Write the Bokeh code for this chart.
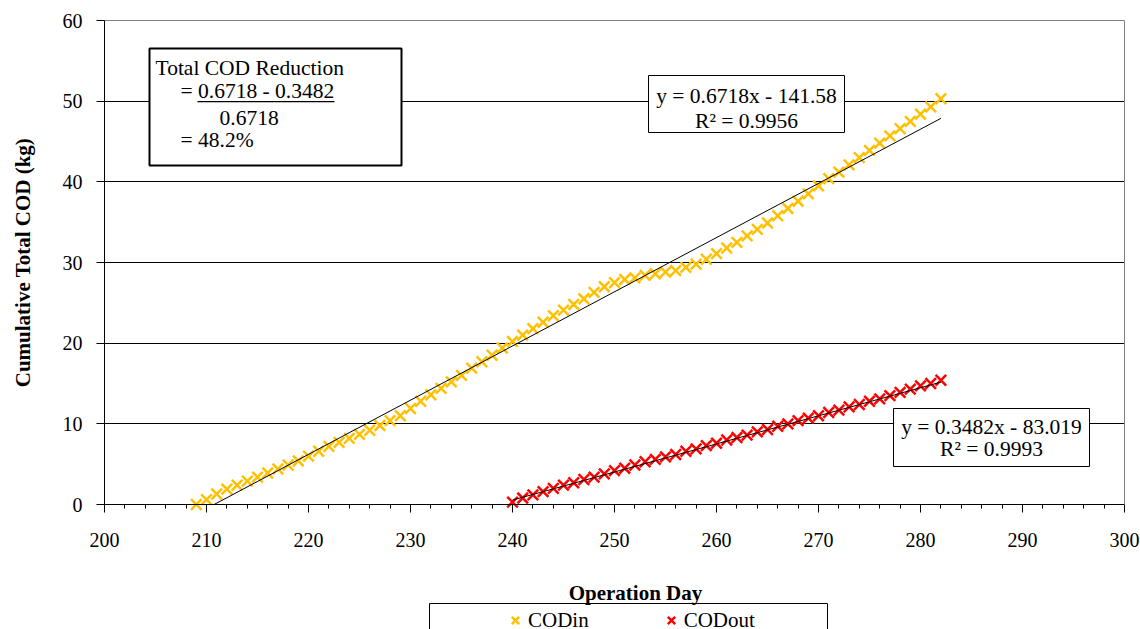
import math
from bokeh.plotting import figure
from bokeh.models import (Legend, LegendItem, Label, BoxAnnotation, SingleIntervalTicker,
                          FixedTicker, Range1d, LinearAxis)
from bokeh.embed import file_html
from bokeh.resources import INLINE

# ---------------- data ----------------
codin_days = list(range(209, 283))
codin_vals = [0.0, 0.6, 1.3, 1.9, 2.4, 2.9, 3.4, 3.9, 4.4, 4.9,
              5.4, 6.0, 6.6, 7.2, 7.7, 8.2, 8.7, 9.2, 9.8, 10.4,
              11.0, 11.9, 12.8, 13.6, 14.4, 15.2, 16.0, 16.9, 17.7, 18.5,
              19.4, 20.2, 21.0, 21.8, 22.6, 23.4, 24.1, 24.8, 25.5, 26.3,
              27.0, 27.5, 27.9, 28.1, 28.4, 28.6, 28.8, 29.0, 29.4, 29.8,
              30.4, 31.1, 31.8, 32.5, 33.3, 34.1, 34.9, 35.8, 36.7, 37.6,
              38.5, 39.5, 40.4, 41.2, 42.1, 43.0, 43.9, 44.8, 45.7, 46.6,
              47.5, 48.4, 49.3, 50.3]

codout_days = list(range(240, 283))
codout_vals = [0.3, 0.8, 1.2, 1.6, 2.0, 2.4, 2.7, 3.1, 3.4, 3.8,
               4.2, 4.5, 4.9, 5.3, 5.6, 5.9, 6.2, 6.6, 6.9, 7.3,
               7.6, 8.0, 8.3, 8.6, 9.0, 9.3, 9.7, 10.0, 10.4, 10.7,
               11.0, 11.4, 11.7, 12.1, 12.4, 12.8, 13.1, 13.5, 13.9, 14.3,
               14.7, 15.0, 15.4]

y_ticks = [0, 10, 20, 30, 40, 50, 60]

# trend line coefficients (as printed on the chart)
codin_slope, codin_intercept = 0.6718, -141.58
codout_slope, codout_intercept = 0.3482, -83.019

FONT = "Liberation Serif"

# ---------------- layout ----------------
W, H = 1140, 629
PL, PR, PT, PB = 104, 1124, 20, 504      # plot area on the canvas
X0, X1, Y0, Y1 = 200, 300, 0, 60
ppx = (PR - PL) / (X1 - X0)
ppy = (PB - PT) / (Y1 - Y0)
x_lo, x_hi = X0 - PL / ppx, X1 + (W - PR) / ppx
y_lo, y_hi = Y0 - (H - PB) / ppy, Y1 + PT / ppy

p = figure(width=W, height=H, output_backend="svg", toolbar_location=None,
           x_range=Range1d(x_lo, x_hi), y_range=Range1d(y_lo, y_hi),
           min_border=0, background_fill_color="white", border_fill_color="white",
           x_axis_location=None, y_axis_location=None)
p.outline_line_color = None
p.xgrid.visible = False
p.ygrid.visible = False

# horizontal gridlines limited to the plot area (minor ticks reaching across it)
grid_axis = LinearAxis(fixed_location=X0, bounds=(Y0, Y1),
                       ticker=FixedTicker(ticks=[], minor_ticks=y_ticks[1:-1]),
                       axis_line_color=None, major_tick_line_color=None,
                       minor_tick_line_color="#000000",
                       minor_tick_in=PR - PL, minor_tick_out=0, level="underlay")
p.add_layout(grid_axis, "left")

xaxis = LinearAxis(fixed_location=Y0, bounds=(X0, X1),
                   ticker=SingleIntervalTicker(interval=10, num_minor_ticks=5))
yaxis = LinearAxis(fixed_location=X0, bounds=(Y0, Y1), ticker=FixedTicker(ticks=y_ticks))
for ax in (xaxis, yaxis):
    ax.axis_line_color = "black"
    ax.axis_line_width = 1
    ax.major_tick_line_color = "black"
    ax.minor_tick_line_color = "black"
    ax.major_tick_in = 0
    ax.major_tick_out = 8
    ax.minor_tick_in = 0
    ax.minor_tick_out = 4
    ax.major_label_text_font = FONT
    ax.major_label_text_font_size = "20px"
    ax.major_label_text_color = "black"
xaxis.major_label_standoff = 20
yaxis.major_label_standoff = 14
yaxis.minor_tick_line_color = None
p.add_layout(xaxis, "below")
p.add_layout(yaxis, "left")

# plot-area border (top and right), drawn as bare axes
right_border = LinearAxis(fixed_location=X1, bounds=(Y0, Y1), ticker=FixedTicker(ticks=[]),
                          axis_line_color="#808080", major_tick_line_color=None,
                          minor_tick_line_color=None)
top_border = LinearAxis(fixed_location=Y1, bounds=(X0, X1), ticker=FixedTicker(ticks=[]),
                        axis_line_color="#808080", major_tick_line_color=None,
                        minor_tick_line_color=None)
p.add_layout(right_border, "right")
p.add_layout(top_border, "above")

# trend lines (start where the fitted line reaches 0)
tx_in = [max(codin_days[0], -codin_intercept / codin_slope), codin_days[-1]]
ty_in = [codin_slope * x + codin_intercept for x in tx_in]
tx_out = [max(codout_days[0], -codout_intercept / codout_slope), codout_days[-1]]
ty_out = [codout_slope * x + codout_intercept for x in tx_out]

# data
r_in = p.scatter(codin_days, codin_vals, marker="x", size=15,
                 line_color="#FFC000", line_width=2.5)
r_out = p.scatter(codout_days, codout_vals, marker="x", size=15,
                  line_color="#FF0000", line_width=2.5)
p.line(tx_in, ty_in, line_color="black", line_width=1)
p.line(tx_out, ty_out, line_color="black", line_width=1)


def sx(cx):
    return cx


def sy(cy):
    return H - cy


# axis titles
p.add_layout(Label(x=sx(22), y=sy((PT + PB) / 2), x_units="screen", y_units="screen",
                   text="Cumulative Total COD (kg)", angle=math.pi / 2,
                   text_font=FONT, text_font_size="21px", text_font_style="bold",
                   text_color="black", text_align="center", text_baseline="middle"))
p.add_layout(Label(x=sx(635), y=sy(592), x_units="screen", y_units="screen",
                   text="Operation Day",
                   text_font=FONT, text_font_size="21px", text_font_style="bold",
                   text_color="black", text_align="center", text_baseline="middle"))

# legend below the axis title
legend = Legend(items=[LegendItem(label="CODin", renderers=[r_in]),
                       LegendItem(label="CODout", renderers=[r_out])],
                orientation="horizontal", location=(sx(502), sy(635)),
                padding=0, margin=0, spacing=69,
                glyph_width=26, glyph_height=30, label_standoff=0,
                label_text_font=FONT, label_text_font_size="21px",
                label_text_color="black",
                border_line_alpha=0, background_fill_alpha=0)
p.add_layout(legend, "center")
p.add_layout(BoxAnnotation(left=sx(429), right=sx(827), top=sy(603), bottom=sy(660),
                           left_units="screen", right_units="screen",
                           top_units="screen", bottom_units="screen",
                           fill_alpha=0, line_color="black", line_alpha=1, line_width=1))


def box(left, right, top, bottom, lw):
    p.add_layout(BoxAnnotation(left=sx(left), right=sx(right), top=sy(top), bottom=sy(bottom),
                               left_units="screen", right_units="screen",
                               top_units="screen", bottom_units="screen",
                               fill_color="white", fill_alpha=1,
                               line_color="black", line_alpha=1, line_width=lw))


def label(text, cx, cy, align="left"):
    p.add_layout(Label(x=sx(cx), y=sy(cy), x_units="screen", y_units="screen",
                       text=text, text_font=FONT, text_font_size="21.5px",
                       text_color="black", text_align=align, text_baseline="middle"))


# reduction box
box(149, 401, 48, 165, 2)
label("Total COD Reduction", 155, 67)
label("= 0.6718 - 0.3482", 180, 90)
p.add_layout(BoxAnnotation(left=sx(197), right=sx(334), top=sy(100.5), bottom=sy(101.8),
                           left_units="screen", right_units="screen",
                           top_units="screen", bottom_units="screen",
                           fill_color="black", fill_alpha=1, line_alpha=0))
label("0.6718", 219, 117)
label("= 48.2%", 180, 139)

# equation boxes
box(648, 844, 75, 132, 1)
label("y = 0.6718x - 141.58", 746, 95, "center")
label("R² = 0.9956", 746, 120, "center")

box(893, 1089, 408, 466, 1)
label("y = 0.3482x - 83.019", 991, 426, "center")
label("R² = 0.9993", 991, 448, "center")

open("out.html", "w").write(file_html(p, INLINE))
